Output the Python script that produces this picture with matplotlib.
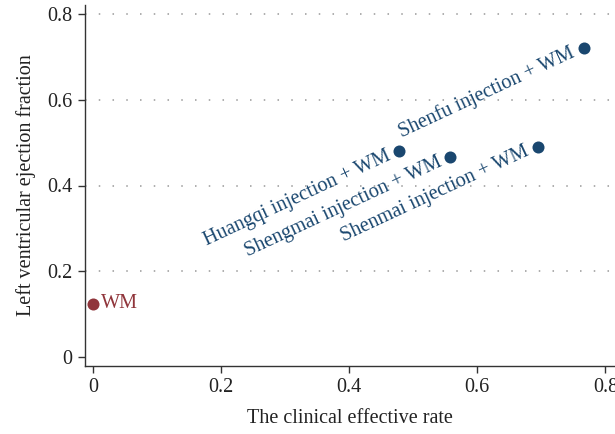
import matplotlib
matplotlib.use("Agg")
import matplotlib.pyplot as plt

plt.rcParams['font.family'] = ['Liberation Serif', 'DejaVu Serif']

# data
names = ["Huangqi injection + WM", "Shengmai injection + WM",
         "Shenmai injection + WM", "Shenfu injection + WM"]
eff_rate = [0.478, 0.558, 0.694, 0.766]
lvef = [0.480, 0.466, 0.490, 0.721]

ctrl_name = "WM"
ctrl_rate = [0.0]
ctrl_lvef = [0.124]

navy = '#1a476f'
maroon = '#90353b'

fig = plt.figure(figsize=(6.15, 4.34), dpi=100)
ax = fig.add_axes([85/615, 68/434, 530/615, 361/434])

ax.scatter(eff_rate, lvef, s=75, color=navy, zorder=3, linewidths=0)
ax.scatter(ctrl_rate, ctrl_lvef, s=75, color=maroon, zorder=3, linewidths=0)

for n, x, y in zip(names, eff_rate, lvef):
    ax.annotate(n, (x, y), xytext=(-7, -3), textcoords='offset points',
                ha='right', va='center', rotation=25, rotation_mode='anchor',
                color=navy, fontsize=14.6)
ax.annotate(ctrl_name, ctrl_rate + ctrl_lvef, xytext=(6, 0), textcoords='offset points',
            ha='left', va='center', color=maroon, fontsize=14.6)

ax.set_xlim(-0.0125, 0.815)
ax.set_ylim(-0.021, 0.821)
ax.set_xticks([0, 0.2, 0.4, 0.6, 0.8])
ax.set_xticklabels(['0', '0.2', '0.4', '0.6', '0.8'])
ax.set_yticks([0, 0.2, 0.4, 0.6, 0.8])
ax.set_yticklabels(['0', '0.2', '0.4', '0.6', '0.8'])
for v in [0.2, 0.4, 0.6, 0.8]:
    ax.axhline(v, color='#999999', linestyle=(0, (1, 8)), linewidth=1.1, zorder=1)

ax.spines['top'].set_visible(False)
ax.spines['right'].set_visible(False)
for s in ['left', 'bottom']:
    ax.spines[s].set_color('#333333')
    ax.spines[s].set_linewidth(1.0)
ax.tick_params(direction='out', length=5, width=1, color='#333333',
               labelsize=14.5, labelcolor='#222222', pad=4)

ax.set_xlabel('The clinical effective rate', fontsize=14.5, color='#222222', labelpad=8)
ax.set_ylabel('Left ventricular ejection fraction', fontsize=14.5, color='#222222', labelpad=8)

fig.savefig('out.png', dpi=100)
